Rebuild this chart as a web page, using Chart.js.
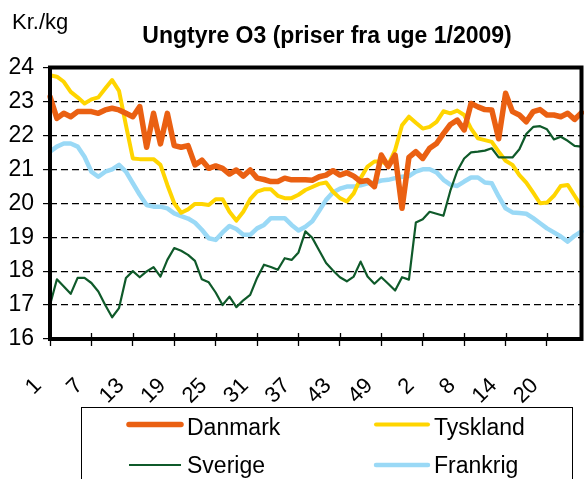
<!DOCTYPE html>
<html>
<head>
<meta charset="utf-8">
<script src="https://cdn.jsdelivr.net/npm/chart.js@4.4.0/dist/chart.umd.min.js"></script>
<style>
html,body{margin:0;padding:0;background:#fff;}
canvas{display:block;}
</style>
</head>
<body>
<canvas id="c" width="584" height="479"></canvas>
<script>
// Weeks: 2009 week 1..53, then 2010 week 1..25
const weeks = [
  '1','2','3','4','5','6','7','8','9','10','11','12','13','14','15','16','17','18','19','20',
  '21','22','23','24','25','26','27','28','29','30','31','32','33','34','35','36','37','38','39','40',
  '41','42','43','44','45','46','47','48','49','50','51','52','53',
  '1','2','3','4','5','6','7','8','9','10','11','12','13','14','15','16','17','18','19','20',
  '21','22','23','24','25'
];

const danmark = [
  23.14,22.50,22.65,22.55,22.70,22.70,22.70,22.65,22.75,22.80,
  22.75,22.65,22.55,22.85,21.65,22.65,21.75,22.65,21.70,21.65,
  21.70,21.13,21.27,21.03,21.10,21.03,20.86,20.98,20.80,20.98,
  20.74,20.70,20.64,20.64,20.74,20.69,20.69,20.69,20.68,20.78,
  20.83,20.96,20.83,20.90,20.80,20.64,20.67,20.49,21.42,21.08,
  21.42,19.85,21.35,21.52,21.32,21.62,21.76,22.05,22.32,22.45,
  22.16,22.94,22.84,22.76,22.75,21.90,23.24,22.70,22.60,22.40,
  22.70,22.76,22.60,22.60,22.55,22.65,22.47,22.67
];

const tyskland = [
  23.77,23.73,23.58,23.28,23.12,22.94,23.06,23.12,23.38,23.63,
  23.31,22.30,21.32,21.30,21.30,21.30,21.13,20.54,20.00,19.72,
  19.82,19.98,19.98,19.95,20.12,20.12,19.75,19.49,19.75,20.12,
  20.34,20.41,20.41,20.22,20.15,20.15,20.25,20.39,20.48,20.57,
  20.61,20.34,20.15,20.05,20.29,20.74,21.08,21.23,21.23,21.13,
  21.57,22.30,22.55,22.37,22.20,22.25,22.40,22.71,22.65,22.73,
  22.60,22.20,21.91,21.86,21.81,21.52,21.25,21.13,20.83,20.61,
  20.31,20.00,20.02,20.22,20.51,20.54,20.22,19.90
];

const sverige = [
  17.00,17.76,17.55,17.33,17.80,17.80,17.65,17.40,17.00,16.64,
  16.91,17.80,18.00,17.82,17.99,18.12,17.84,18.33,18.68,18.60,
  18.48,18.30,17.76,17.67,17.37,17.00,17.25,16.94,17.14,17.30,
  17.80,18.19,18.12,18.04,18.38,18.33,18.55,19.17,18.98,18.61,
  18.24,18.02,17.82,17.70,17.84,18.28,17.84,17.63,17.82,17.63,
  17.43,17.82,17.75,19.43,19.53,19.75,19.69,19.63,20.37,20.95,
  21.32,21.50,21.52,21.55,21.62,21.35,21.35,21.35,21.59,22.04,
  22.25,22.27,22.18,21.88,21.96,21.84,21.69,21.67
];

const frankrig = [
  21.52,21.67,21.76,21.76,21.67,21.37,20.93,20.78,20.93,21.00,
  21.13,20.93,20.59,20.25,19.95,19.90,19.90,19.85,19.70,19.62,
  19.55,19.43,19.22,18.97,18.92,19.14,19.33,19.24,19.07,19.07,
  19.26,19.36,19.56,19.56,19.56,19.36,19.20,19.31,19.47,19.78,
  20.10,20.32,20.43,20.49,20.49,20.53,20.59,20.61,20.67,20.69,
  20.74,20.78,20.80,20.93,21.00,21.00,20.91,20.69,20.55,20.51,
  20.64,20.76,20.76,20.61,20.59,20.20,19.85,19.73,19.71,19.69,
  19.56,19.41,19.26,19.14,19.02,18.87,19.04,19.17
];

const seriesNames = ['Danmark','Tyskland','Sverige','Frankrig'];
const yMin = 16, yMax = 24, yStep = 1;
const labelEvery = 6;
const titleText = 'Ungtyre O3 (priser fra uge 1/2009)';
const unitText = 'Kr./kg';

const FONT = '"Liberation Sans", Arial, Helvetica, sans-serif';
Chart.defaults.font.family = FONT;
Chart.defaults.color = '#000';

const colors = { Danmark:'#EA6012', Tyskland:'#FFD500', Sverige:'#0F5A2A', Frankrig:'#9AD9F6' };
const widths = { Danmark:5.5, Tyskland:4, Sverige:2.2, Frankrig:4.5 };

const overlay = {
  id: 'overlay',
  afterDatasetsDraw(chart) {
    const {ctx, chartArea: a} = chart;
    const xs = chart.scales.x;
    ctx.save();
    ctx.strokeStyle = '#000';
    ctx.lineWidth = 1.3;
    xs.ticks.forEach(t => {
      const px = Math.round(xs.getPixelForValue(t.value)) + 0.5;
      ctx.beginPath();
      ctx.moveTo(px, a.bottom - 6);
      ctx.lineTo(px, a.bottom);
      ctx.stroke();
    });
    ctx.lineWidth = 4;
    ctx.strokeRect(a.left, a.top, a.right - a.left, a.bottom - a.top);
    ctx.restore();
  },
  afterDraw(chart) {
    const ctx = chart.ctx;
    ctx.save();
    ctx.fillStyle = '#000';
    ctx.textBaseline = 'alphabetic';
    ctx.font = 'bold 23px ' + FONT;
    ctx.textAlign = 'center';
    ctx.fillText(titleText, 327, 43);
    ctx.font = '22px ' + FONT;
    ctx.textAlign = 'left';
    ctx.fillText(unitText, 12, 28.5);

    ctx.strokeStyle = '#000';
    ctx.lineWidth = 1;
    ctx.strokeRect(81.5, 407.5, 491, 90);
    const cols = [127, 374];
    const rows = [424.5, 465];
    const baselines = [435, 473];
    ctx.font = '23px ' + FONT;
    chart.data.datasets.forEach((ds, i) => {
      const cx = cols[i % 2], ry = rows[Math.floor(i / 2)], bl = baselines[Math.floor(i / 2)];
      ctx.strokeStyle = ds.borderColor;
      ctx.lineWidth = ds.borderWidth;
      ctx.lineCap = ds.borderWidth > 3 ? 'round' : 'butt';
      ctx.beginPath();
      ctx.moveTo(cx + 2, ry);
      ctx.lineTo(cx + 54, ry);
      ctx.stroke();
      ctx.fillStyle = '#000';
      ctx.fillText(ds.label, cx + 60, bl);
    });
    ctx.restore();
  }
};

const seriesData = [danmark, tyskland, sverige, frankrig];
const drawOrder = { Danmark:0, Sverige:1, Tyskland:2, Frankrig:3 };

new Chart(document.getElementById('c'), {
  type: 'line',
  data: {
    labels: weeks,
    datasets: seriesNames.map((n, i) => ({
      label: n,
      data: seriesData[i],
      borderColor: colors[n],
      backgroundColor: colors[n],
      borderWidth: widths[n],
      pointRadius: 0,
      tension: 0,
      fill: false,
      borderJoinStyle: 'round',
      borderCapStyle: 'round',
      order: drawOrder[n]
    }))
  },
  options: {
    responsive: false,
    animation: false,
    devicePixelRatio: 1,
    layout: { padding: { left: 7, right: 2.5, top: 67.5, bottom: 40 } },
    plugins: {
      legend: { display: false },
      title: { display: false },
      tooltip: { enabled: false }
    },
    scales: {
      x: {
        type: 'category',
        offset: false,
        grid: { display: true, drawOnChartArea: false, drawTicks: true, tickLength: 7, tickColor: '#000', tickWidth: 1.3 },
        border: { display: false },
        afterBuildTicks: axis => { axis.ticks = axis.ticks.filter((t, i) => i % labelEvery === 0); },
        afterFit: axis => { axis.height = 100; axis.paddingLeft = 0; axis.paddingRight = 0; },
        ticks: {
          autoSkip: false,
          minRotation: 45,
          maxRotation: 45,
          padding: 27,
          labelOffset: -12,
          font: { size: 22 },
          color: '#000'
        }
      },
      y: {
        min: yMin,
        max: yMax,
        grid: { color: '#000', lineWidth: 1.2, tickLength: 7, tickColor: '#000', tickWidth: 1.2 },
        border: { display: false, dash: [7, 4] },
        afterFit: axis => { axis.width = 43; axis.paddingTop = 0; axis.paddingBottom = 0; },
        ticks: { stepSize: yStep, padding: 9, font: { size: 23 }, color: '#000' }
      }
    }
  },
  plugins: [overlay]
});
</script>
</body>
</html>
